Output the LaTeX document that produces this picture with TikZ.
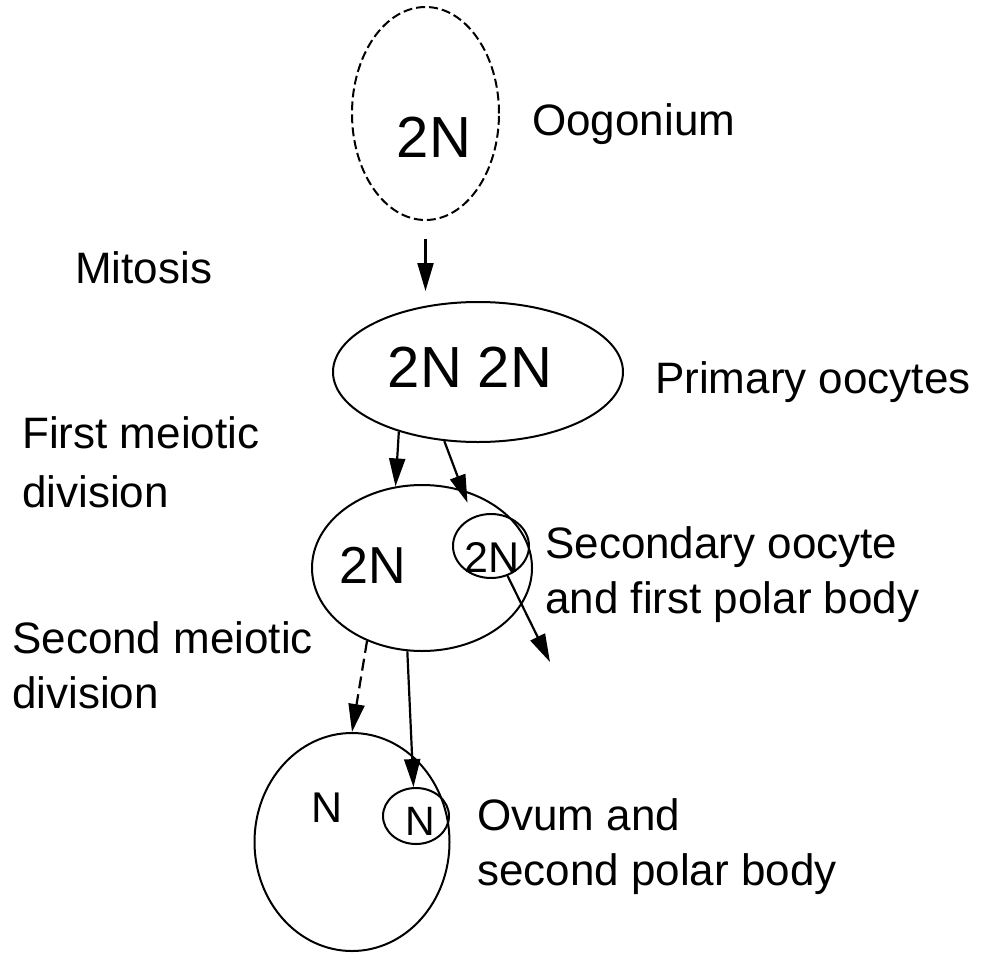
\documentclass[tikz,border=0pt]{standalone}
\usepackage{fontspec}
\setmainfont{Liberation Sans}
\usetikzlibrary{shapes.geometric,arrows.meta}
\begin{document}
\begin{tikzpicture}[x=1pt,y=-1pt,
  cell/.style={draw,ellipse,line width=2pt,inner sep=0pt},
  lbl/.style={anchor=base west,inner sep=0pt,align=left,font=\fontsize{44}{56}\selectfont},
  nlbl/.style={anchor=base,inner sep=0pt},
  arr/.style={line width=2.2pt,-{Triangle[length=28pt,width=16pt]}},
]
\useasboundingbox[fill=white] (0,0) rectangle (981,955);
% cells
\node[cell,dash pattern=on 9pt off 4pt,minimum width=147pt,minimum height=213pt] (oog) at (425.5,113.5) {};
\node[cell,minimum width=290pt,minimum height=140pt] (prim) at (478,372) {};
\node[cell,minimum width=220pt,minimum height=166pt] (sec) at (422,568) {};
\node[cell,minimum width=76pt,minimum height=64pt] (pb1) at (491,546) {};
\node[cell,minimum width=195pt,minimum height=218pt] (ovum) at (352,842) {};
\node[cell,minimum width=66pt,minimum height=56pt] (pb2) at (416,816) {};
% ploidy labels
\node[nlbl,font=\fontsize{58}{60}\selectfont] (t1) at (434,157) {2N};
\node[nlbl,font=\fontsize{58}{60}\selectfont] (t2) at (470,387) {2N 2N};
\node[nlbl,font=\fontsize{52}{60}\selectfont] (t3) at (372.5,583) {2N};
\node[nlbl,font=\fontsize{43}{50}\selectfont] (t4) at (492,572) {2N};
\node[nlbl,font=\fontsize{43}{50}\selectfont] (t5) at (327,822) {N};
\node[nlbl,font=\fontsize{41}{50}\selectfont] (t6) at (420,835) {N};
% stage labels (base anchor = baseline of last line)
\node[lbl] (l1) at (532,135) {Oogonium};
\node[lbl] (l2) at (75,283) {Mitosis};
\node[lbl] (l3) at (655,393) {Primary oocytes};
\node[lbl,font=\fontsize{44}{59}\selectfont] (l4) at (22,507) {First meiotic\\division};
\node[lbl,font=\fontsize{44}{55}\selectfont] (l5) at (545,613) {Secondary oocyte\\and first polar body};
\node[lbl,font=\fontsize{44}{55}\selectfont] (l6) at (12,708) {Second meiotic\\division};
\node[lbl,font=\fontsize{44}{55}\selectfont] (l7) at (477,885) {Ovum and\\second polar body};
% arrows
\coordinate (pb1out) at (550,662);
\draw[arr,shorten <=18pt,shorten >=10pt] (oog.south) -- (oog.south |- prim.north);
\draw[arr] (prim.217) -- (sec.108);
\draw[arr,shorten >=15pt] (prim.244) -- (pb1.122);
\draw[arr] (pb1.299) -- (pb1out);
\draw[arr,dash pattern=on 12pt off 6pt] (sec.233) -- (ovum.north);
\draw[arr] (sec.260) -- (pb2.95);
\end{tikzpicture}
\end{document}
